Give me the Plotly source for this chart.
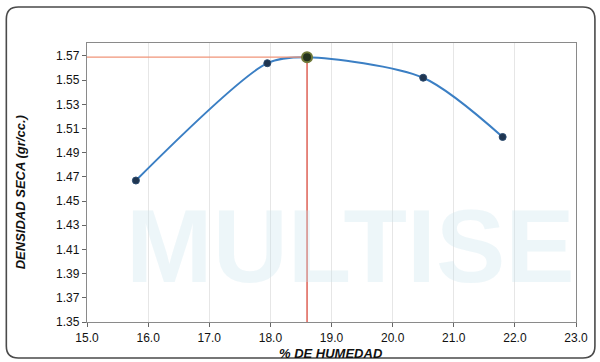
import plotly.graph_objects as go

# Compaction test results: moisture content (%) vs dry density (g/cc)
humedad = [15.8, 17.95, 20.5, 21.8]
densidad = [1.467, 1.564, 1.552, 1.503]

# Optimum point (maximum dry density)
hum_opt = 18.6
dens_max = 1.569

x_ticks = [15.0, 16.0, 17.0, 18.0, 19.0, 20.0, 21.0, 22.0, 23.0]
y_ticks = [1.35, 1.37, 1.39, 1.41, 1.43, 1.45, 1.47, 1.49, 1.51, 1.53, 1.55, 1.57]

W, H = 600, 362
L, R, T, B = 87, 22, 43, 40
PW, PH = W - L - R, H - T - B


def px(x):
    return (x - L) / PW


def py(y):
    return (H - B - y) / PH


# Curve through the measured points and the optimum
curve_x = [humedad[0], humedad[1], hum_opt, humedad[2], humedad[3]]
curve_y = [densidad[0], densidad[1], dens_max, densidad[2], densidad[3]]

fig = go.Figure()

# Faint background watermark
fig.add_annotation(
    x=px(352), y=py(246), xref="paper", yref="paper",
    xanchor="center", yanchor="middle",
    text="<b>MULTISE</b>", showarrow=False,
    font=dict(family="Liberation Sans", size=104, color="rgba(200,226,236,0.32)"),
)

fig.add_trace(go.Scatter(
    x=curve_x, y=curve_y, mode="lines",
    line=dict(color="#3b7fc4", width=2, shape="spline", smoothing=0.8),
    hoverinfo="skip", showlegend=False,
))

# Reference lines at the optimum
fig.add_trace(go.Scatter(
    x=[15.0, hum_opt], y=[dens_max, dens_max], mode="lines",
    line=dict(color="#f09478", width=1.3), showlegend=False,
))
fig.add_trace(go.Scatter(
    x=[hum_opt, hum_opt], y=[dens_max, 1.35], mode="lines",
    line=dict(color="#d9483b", width=1.3), showlegend=False,
))

fig.add_trace(go.Scatter(
    x=humedad, y=densidad, mode="markers",
    marker=dict(color="#1f3550", size=7, line=dict(color="#2a4a6e", width=1)),
    showlegend=False,
))
fig.add_trace(go.Scatter(
    x=[hum_opt], y=[dens_max], mode="markers",
    marker=dict(color="#24331f", size=10, line=dict(color="#6f7a3a", width=2)),
    showlegend=False,
))

# Rounded outer frame
x0, x1, y0, y1, r = 6, 597, 7, 358, 12
path = (
    f"M {px(x0 + r)},{py(y0)} L {px(x1 - r)},{py(y0)} "
    f"Q {px(x1)},{py(y0)} {px(x1)},{py(y0 + r)} "
    f"L {px(x1)},{py(y1 - r)} Q {px(x1)},{py(y1)} {px(x1 - r)},{py(y1)} "
    f"L {px(x0 + r)},{py(y1)} Q {px(x0)},{py(y1)} {px(x0)},{py(y1 - r)} "
    f"L {px(x0)},{py(y0 + r)} Q {px(x0)},{py(y0)} {px(x0 + r)},{py(y0)} Z"
)
fig.add_shape(type="path", path=path, xref="paper", yref="paper",
              line=dict(color="#4a4a4a", width=1.6), layer="below")

# Title (top edge of the page)
fig.add_annotation(
    x=px(268), y=py(5), xref="paper", yref="paper",
    xanchor="center", yanchor="bottom",
    text="CURVA DE <b>COMPACTACION</b> - <b>ASTM D1557</b>", showarrow=False,
    font=dict(family="Liberation Sans", size=12, color="#333"),
)

# Axis titles
fig.add_annotation(
    x=px(332), y=py(353), xref="paper", yref="paper",
    xanchor="center", yanchor="middle",
    text="<b><i>% DE HUMEDAD</i></b>", showarrow=False,
    font=dict(family="Liberation Sans", size=13, color="#111"),
)
fig.add_annotation(
    x=px(20), y=py(192), xref="paper", yref="paper",
    xanchor="center", yanchor="middle", textangle=-90,
    text="<b><i>DENSIDAD SECA (gr/cc.)</i></b>", showarrow=False,
    font=dict(family="Liberation Sans", size=13, color="#111"),
)

fig.update_xaxes(
    range=[15.0, 23.0], tickvals=x_ticks, tickformat=".1f",
    showgrid=True, gridcolor="#e6e6e6", gridwidth=1,
    showline=True, linecolor="#8a8a8a", linewidth=1.3, mirror=True,
    ticks="outside", ticklen=4, tickcolor="#666",
    tickfont=dict(family="Liberation Sans", size=12, color="#111"),
    zeroline=False,
)
fig.update_yaxes(
    range=[1.35, 1.5807], tickvals=y_ticks, tickformat=".2f",
    showgrid=False,
    showline=True, linecolor="#8a8a8a", linewidth=1.3, mirror=True,
    ticks="outside", ticklen=4, tickcolor="#666",
    tickfont=dict(family="Liberation Sans", size=12, color="#111"),
    zeroline=False,
)

fig.update_layout(
    width=W, height=H,
    margin=dict(l=L, r=R, t=T, b=B),
    paper_bgcolor="white", plot_bgcolor="rgba(0,0,0,0)",
    showlegend=False,
)

fig.write_html("out.html")
